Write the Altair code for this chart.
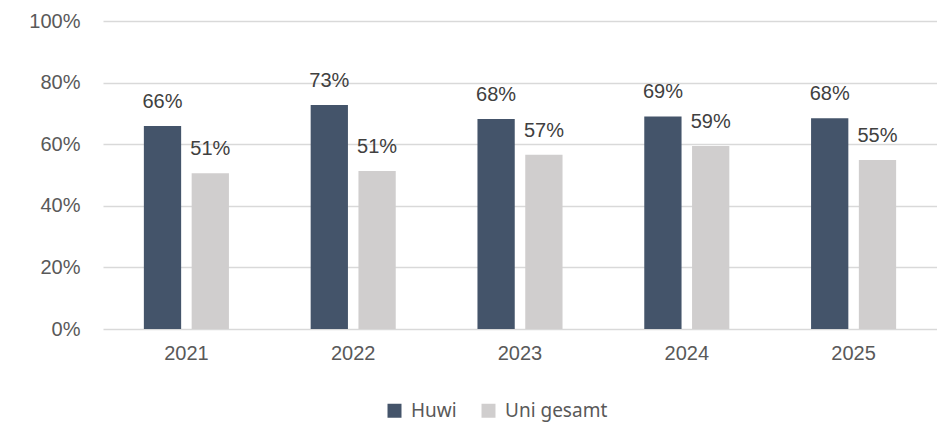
import altair as alt
import pandas as pd

years = ["2021", "2022", "2023", "2024", "2025"]
huwi = [65.9, 72.7, 68.2, 69.0, 68.4]
uni = [50.6, 51.3, 56.6, 59.4, 54.9]
series = ["Huwi", "Uni gesamt"]
colors = ["#44546A", "#D0CECE"]

rows = []
for i, y in enumerate(years):
    rows.append({"Jahr": y, "Gruppe": series[0], "Wert": huwi[i] / 100, "Label": f"{round(huwi[i])}%"})
    rows.append({"Jahr": y, "Gruppe": series[1], "Wert": uni[i] / 100, "Label": f"{round(uni[i])}%"})
df = pd.DataFrame(rows)

base = alt.Chart(df).encode(
    x=alt.X("Jahr:N", sort=years, title=None,
            scale=alt.Scale(paddingInner=0.49, paddingOuter=0.245),
            axis=alt.Axis(labelAngle=0, labelFont="Liberation Sans", labelFontSize=20,
                          labelColor="#595959", ticks=False, domain=False, labelPadding=14)),
    xOffset=alt.XOffset("Gruppe:N", sort=series, scale=alt.Scale(paddingInner=0.22)),
)

bars = base.mark_bar().encode(
    y=alt.Y("Wert:Q", title=None,
            scale=alt.Scale(domain=[0, 1]),
            axis=alt.Axis(format=".0%", values=[0, 0.2, 0.4, 0.6, 0.8, 1.0],
                          labelFont="Liberation Sans", labelFontSize=20, labelColor="#595959",
                          ticks=False, domain=False, labelPadding=23,
                          gridColor="#D9D9D9", gridWidth=1.5)),
    color=alt.Color("Gruppe:N", sort=series,
                    scale=alt.Scale(domain=series, range=colors),
                    legend=alt.Legend(title=None, orient="none", legendX=282, legendY=380,
                                      direction="horizontal",
                                      symbolType="square", symbolSize=196, symbolStrokeWidth=0,
                                      labelFont="Noto Sans", labelFontSize=19, labelColor="#595959",
                                      labelOffset=7, columnPadding=22)),
)

labels = base.mark_text(baseline="alphabetic", dy=-18, font="Liberation Sans", fontSize=20,
                        color="#404040").encode(
    y=alt.Y("Wert:Q"),
    text="Label:N",
)

chart = (bars + labels).properties(
    width=834, height=308,
    padding={"left": 20, "top": 3, "right": 0, "bottom": 2},
    background="white",
).configure_view(strokeWidth=0)

chart.save("out.html", embed_options={"renderer": "svg", "actions": False})
